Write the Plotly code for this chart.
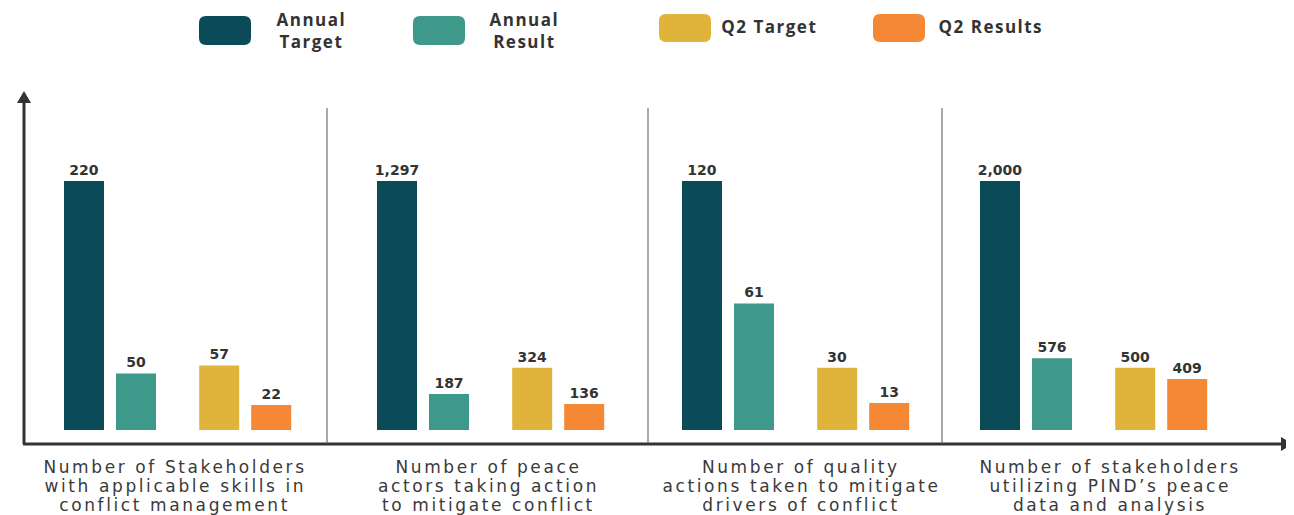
import plotly.graph_objects as go

# ---------------- data ----------------
categories = [
    "Number of Stakeholders<br>with applicable skills in<br>conflict management",
    "Number of peace<br>actors taking action<br>to mitigate conflict",
    "Number of quality<br>actions taken to mitigate<br>drivers of conflict",
    "Number of stakeholders<br>utilizing PIND’s peace<br>data and analysis",
]
series_names = ["Annual Target", "Annual Result", "Q2 Target", "Q2 Results"]
legend_labels = ["Annual<br>Target", "Annual<br>Result", "Q2 Target", "Q2 Results"]
annual_target = [220, 1297, 120, 2000]
annual_result = [50, 187, 61, 576]
q2_target = [57, 324, 30, 500]
q2_results = [22, 136, 13, 409]
series_values = [annual_target, annual_result, q2_target, q2_results]
colors = ["#0b4b58", "#3e998a", "#e0b43a", "#f58835"]

# ---------------- layout constants ----------------
# the page body has an 8px margin; positions below are page pixels
OFF = 8
W, H = 1286, 507
def px(x):
    return (x - OFF) / W
def py(y):
    return 1 - (y - OFF) / H

bar_pos = [0, 1, 2.6, 3.6]          # slot positions within a panel
unit = 52.0                          # px per slot unit
first_center = [84, 397, 702, 1000]  # page px of first bar in each panel
pad = 45.0
base_px, top_px = 430, 95
max_bar_px = 249

fig = go.Figure()
for i in range(4):
    sfx = "" if i == 0 else str(i + 1)
    x0 = first_center[i] - pad
    x1 = first_center[i] + 3.6 * unit + pad
    r0 = -pad / unit
    r1 = 3.6 + pad / unit
    panel_max = max(s[i] for s in series_values)
    yr = panel_max * (base_px - top_px) / max_bar_px
    for j, name in enumerate(series_names):
        fig.add_trace(go.Bar(
            x=[bar_pos[j]], y=[series_values[j][i]], name=name,
            marker=dict(color=colors[j], line=dict(width=0)),
            width=40 / unit,
            texttemplate="%{y:,}", textposition="outside", constraintext="none",
            textfont=dict(family="DejaVu Sans", size=14, color="#333333", weight="bold"),
            cliponaxis=False, showlegend=False,
            xaxis="x" + sfx, yaxis="y" + sfx,
        ))
    fig.layout["xaxis" + sfx] = dict(domain=[px(x0), px(x1)], range=[r0, r1],
                                     visible=False, anchor="y" + sfx)
    fig.layout["yaxis" + sfx] = dict(domain=[py(base_px), py(top_px)], range=[0, yr],
                                     visible=False, anchor="x" + sfx)

shapes = []
axis_col = "#333333"
# y axis with arrow
shapes.append(dict(type="line", xref="paper", yref="paper",
                   x0=px(24), x1=px(24), y0=py(444), y1=py(100),
                   line=dict(color=axis_col, width=3)))
shapes.append(dict(type="path", xref="paper", yref="paper",
                   path=f"M {px(17)} {py(103)} L {px(24)} {py(91)} L {px(31)} {py(103)} Z",
                   fillcolor=axis_col, line=dict(width=0)))
# x axis with arrow
shapes.append(dict(type="line", xref="paper", yref="paper",
                   x0=px(23), x1=px(1284), y0=py(444), y1=py(444),
                   line=dict(color=axis_col, width=3)))
shapes.append(dict(type="path", xref="paper", yref="paper",
                   path=f"M {px(1281)} {py(437)} L {px(1293)} {py(444)} L {px(1281)} {py(451)} Z",
                   fillcolor=axis_col, line=dict(width=0)))
# panel separators
for xs in [327, 648, 942]:
    shapes.append(dict(type="line", xref="paper", yref="paper",
                       x0=px(xs), x1=px(xs), y0=py(444), y1=py(108),
                       line=dict(color="#555555", width=1)))

# legend swatches (rounded)
def rrect(x0, y0, x1, y1, r=7):
    rx, ry = r / W, r / H
    X0, X1, Y0, Y1 = px(x0), px(x1), py(y0), py(y1)
    return (f"M {X0+rx} {Y0} L {X1-rx} {Y0} Q {X1} {Y0} {X1} {Y0-ry} "
            f"L {X1} {Y1+ry} Q {X1} {Y1} {X1-rx} {Y1} L {X0+rx} {Y1} "
            f"Q {X0} {Y1} {X0} {Y1+ry} L {X0} {Y0-ry} Q {X0} {Y0} {X0+rx} {Y0} Z")

swatches = [(199, 16, 251, 45), (413, 16, 465, 45), (659, 14, 711, 42), (873, 14, 925, 42)]
for (a, b, c, d), col in zip(swatches, colors):
    shapes.append(dict(type="path", xref="paper", yref="paper", path=rrect(a, b, c, d),
                       fillcolor=col, line=dict(width=0)))

annotations = []
leg_font = dict(family="Open Sans", size=17, color="#333333", weight="bold")
leg_pos = [(311, 30, "center"), (524, 30, "center"), (726, 27, "left"), (944, 27, "left")]
for (lx, ly, anc), lab in zip(leg_pos, legend_labels):
    annotations.append(dict(x=px(lx), y=py(ly), text=lab, showarrow=False,
                            xanchor=anc, yanchor="middle", font=leg_font,
                            xref="paper", yref="paper"))

# category labels, one line at a time for tight spacing
cat_centers = [175, 488, 801, 1110]
cat_font = dict(family="DejaVu Sans", size=17, color="#3a3a3a")
for cx, cat in zip(cat_centers, categories):
    for k, line in enumerate(cat.split("<br>")):
        annotations.append(dict(x=px(cx), y=py(467 + 19 * k), text=line, showarrow=False,
                                xanchor="center", yanchor="middle", font=cat_font,
                                xref="paper", yref="paper"))

fig.update_layout(
    width=W, height=H, autosize=False,
    margin=dict(l=0, r=0, t=0, b=0),
    paper_bgcolor="white", plot_bgcolor="rgba(0,0,0,0)",
    barmode="overlay", shapes=shapes, annotations=annotations,
)

# widen letter spacing of the (wide, extended-style) label lettering
post = """
function __ls(){
  var gd = document.getElementById('{plot_id}');
  if(!gd) return;
  gd.querySelectorAll('g.annotation').forEach(function(g){
    var idx = parseInt(g.getAttribute('data-index'));
    var t = g.querySelector('text.annotation-text');
    if(!t) return;
    t.style.letterSpacing = (idx < 4) ? '1.5px' : '2.6px';
  });
}
__ls(); setTimeout(__ls, 50); setTimeout(__ls, 300);
"""
fig.write_html("out.html", post_script=post)
